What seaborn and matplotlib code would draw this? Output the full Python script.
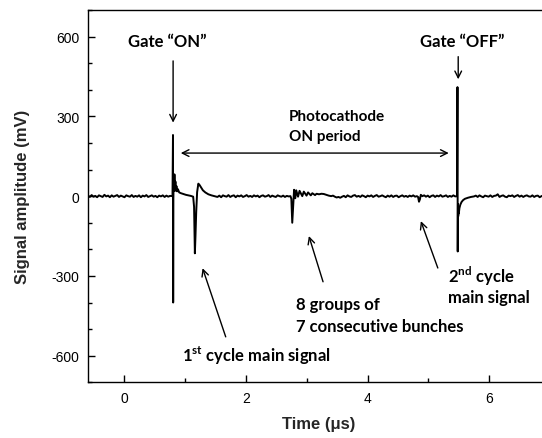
import matplotlib
matplotlib.use("Agg")
import matplotlib.pyplot as plt
import seaborn as sns
import pandas as pd
from matplotlib.ticker import MultipleLocator

# ---- data ----
t_pre = [-0.60, -0.57, -0.54, -0.51, -0.48, -0.45, -0.42, -0.39, -0.36, -0.33,
         -0.30, -0.27, -0.24, -0.21, -0.18, -0.15, -0.12, -0.09, -0.06, -0.03,
         0.00, 0.03, 0.06, 0.09, 0.12, 0.15, 0.18, 0.21, 0.24, 0.27,
         0.30, 0.33, 0.36, 0.39, 0.42, 0.45, 0.48, 0.51, 0.54, 0.57,
         0.60, 0.63, 0.66, 0.69, 0.72, 0.75, 0.79]
v_pre = [2, -3, 4, -2, 1, -4, 3, 0, -3, 5, -1, 2, -4, 3, -2, 1, 4, -3, 2, -1,
         -4, 3, 0, -2, 4, -3, 1, -2, 3, -4, 2, -1, 4, -3, 0, 3, -2, 1, -4, 2,
         -1, 3, -3, 2, -2, 1, 0]

t_on = [0.798, 0.801, 0.804, 0.808, 0.815, 0.822, 0.830, 0.838, 0.846, 0.855,
        0.865, 0.880, 0.900, 0.930, 0.970, 1.010, 1.050, 1.090, 1.130]
v_on = [230, -400, -10, 40, 20, 82, 25, 55, 20, 38, 18, 26, 14, 11, 8, 5, 3, 1, -2]

t_c1 = [1.145, 1.158, 1.168, 1.180, 1.195, 1.215, 1.235, 1.260, 1.290, 1.330,
        1.380, 1.430, 1.480]
v_c1 = [-40, -215, -150, -60, 15, 47, 42, 33, 22, 14, 7, 3, 0]

t_mid1 = [1.53, 1.56, 1.59, 1.62, 1.65, 1.68, 1.71, 1.74, 1.77, 1.80, 1.83, 1.86,
          1.89, 1.92, 1.95, 1.98, 2.01, 2.04, 2.07, 2.10, 2.13, 2.16, 2.19, 2.22,
          2.25, 2.28, 2.31, 2.34, 2.37, 2.40, 2.43, 2.46, 2.49, 2.52, 2.55, 2.58,
          2.61, 2.64, 2.67, 2.70, 2.73]
v_mid1 = [-3, 2, -4, 3, 0, -2, 4, -3, 1, 3, -4, 2, -1, 3, -3, 0, 4, -2, 1, -3,
          3, -1, 2, -4, 1, 3, -2, 0, 4, -3, 2, -1, -3, 3, 0, -2, 2, -3, 1, -1, 0]

t_grp = [2.745, 2.760, 2.775, 2.790, 2.810, 2.825, 2.855, 2.880, 2.925, 2.950,
         2.995, 3.020, 3.065, 3.090, 3.135, 3.160, 3.200, 3.240, 3.280, 3.320,
         3.360, 3.400]
v_grp = [-10, -100, -40, 24, -8, 22, -2, 20, 0, 17, 2, 14, 3, 11, 4, 9, 7, 9, 8,
         5, 2, 0]

t_mid2 = [3.43, 3.46, 3.49, 3.52, 3.55, 3.58, 3.61, 3.64, 3.67, 3.70, 3.73, 3.76,
          3.79, 3.82, 3.85, 3.88, 3.91, 3.94, 3.97, 4.00, 4.03, 4.06, 4.09, 4.12,
          4.15, 4.18, 4.21, 4.24, 4.27, 4.30, 4.33, 4.36, 4.39, 4.42, 4.45, 4.48,
          4.51, 4.54, 4.57, 4.60, 4.63, 4.66, 4.69, 4.72, 4.75, 4.78, 4.81]
v_mid2 = [2, -2, -5, -3, -6, -2, 1, -4, 3, -1, -3, 2, 4, -2, 1, -3, 3, 0, -4, 2,
          -1, 3, -3, 1, 4, -2, 0, 3, -1, -4, 2, -2, 3, -3, 1, 2, -4, 0, 3, -2,
          1, -3, 2, -1, 3, -2, 0]

t_c2 = [4.830, 4.845, 4.860, 4.875, 4.900]
v_c2 = [-3, -21, -12, 5, 0]

t_mid3 = [4.93, 4.96, 4.99, 5.02, 5.05, 5.08, 5.11, 5.14, 5.17, 5.20, 5.23, 5.26,
          5.29, 5.32, 5.35, 5.38, 5.41, 5.44, 5.47]
v_mid3 = [3, -2, 2, -4, 1, 3, -3, 2, -1, 4, -2, 0, 3, -3, 1, -2, 3, -1, 0]

t_off = [5.478, 5.482, 5.486, 5.490, 5.495, 5.500, 5.510, 5.525, 5.545, 5.570,
         5.600, 5.650, 5.700, 5.750]
v_off = [410, -208, -30, -76, -60, -65, -45, -32, -22, -15, -10, -6, -3, -1]

t_post = [5.78, 5.81, 5.84, 5.87, 5.90, 5.93, 5.96, 5.99, 6.02, 6.05, 6.08, 6.11,
          6.14, 6.17, 6.20, 6.23, 6.26, 6.29, 6.32, 6.35, 6.38, 6.41, 6.44, 6.47,
          6.50, 6.53, 6.56, 6.59, 6.62, 6.65, 6.68, 6.71, 6.74, 6.77, 6.80, 6.83,
          6.86, 6.89, 6.92, 6.95, 6.98, 7.00]
v_post = [2, -3, 3, -1, -4, 2, 0, -2, 3, -3, 1, 2, 7, -3, 1, 3, -2, -4, 2, 0,
          3, -3, 1, 4, -2, 2, -3, 1, 3, -1, -2, 3, -3, 1, 2, -4, 0, 3, -2, 1, -1, 0]

x_ticks = [0, 2, 4, 6]
y_ticks = [-600, -300, 0, 300, 600]

t_all = t_pre + t_on + t_c1 + t_mid1 + t_grp + t_mid2 + t_c2 + t_mid3 + t_off + t_post
v_all = v_pre + v_on + v_c1 + v_mid1 + v_grp + v_mid2 + v_c2 + v_mid3 + v_off + v_post
df = pd.DataFrame({"t": t_all, "v": v_all})

# ---- style ----
sns.set_theme(style="ticks")
plt.rcParams["font.family"] = ["Liberation Sans", "DejaVu Sans"]
plt.rcParams["axes.unicode_minus"] = False
plt.rcParams["mathtext.fontset"] = "custom"
plt.rcParams["mathtext.rm"] = "Lato"
plt.rcParams["mathtext.bf"] = "Lato:bold"

W, H = 542, 439
fig = plt.figure(figsize=(W / 100, H / 100), dpi=100)
left, right, bottom, top = 88, 550, 383.3, 11
ax = fig.add_axes([left / W, 1 - bottom / H, (right - left) / W, (bottom - top) / H])

sns.lineplot(data=df, x="t", y="v", ax=ax, color="black", linewidth=1.4,
             estimator=None, sort=False)

ax.set_xlim(-0.6, 7.0)
ax.set_ylim(-700, 700)
ax.set_xticks(x_ticks)
ax.set_yticks(y_ticks)
ax.xaxis.set_minor_locator(MultipleLocator(1))
ax.yaxis.set_minor_locator(MultipleLocator(100))
ax.tick_params(which="both", direction="in", color="black", width=1)
ax.tick_params(which="major", length=5, labelsize=10, colors="black", pad=6)
ax.tick_params(which="minor", length=3)
for s in ax.spines.values():
    s.set_color("black")
    s.set_linewidth(1.0)

ax.set_xlabel("Time (μs)", fontsize=12, fontweight="bold", labelpad=8)
ax.set_ylabel("Signal amplitude (mV)", fontsize=12, fontweight="bold", labelpad=16)

afont = dict(family="Lato", fontweight="bold", color="black")
arr = dict(arrowstyle="->", color="black", lw=1.0, mutation_scale=12)

ax.text(0.71, 585, "Gate “ON”", ha="center", va="center", fontsize=12, **afont)
ax.annotate("", xy=(0.80, 266), xytext=(0.80, 519), arrowprops=arr)
ax.text(5.55, 585, "Gate “OFF”", ha="center", va="center", fontsize=12, **afont)
ax.annotate("", xy=(5.49, 429), xytext=(5.49, 535), arrowprops=arr)

ax.annotate("", xy=(0.88, 162), xytext=(5.38, 162),
            arrowprops=dict(arrowstyle="<->", color="black", lw=1.0, mutation_scale=12))
ax.text(2.70, 300, "Photocathode", ha="left", va="center", fontsize=11, **afont)
ax.text(2.70, 226, "ON period", ha="left", va="center", fontsize=11, **afont)

ax.annotate("", xy=(1.27, -261), xytext=(1.68, -539), arrowprops=arr)
ax.text(0.94, -595, r"1$^{\mathbf{st}}$ cycle main signal", ha="left", va="center",
        fontsize=12, **afont)

ax.annotate("", xy=(3.02, -140), xytext=(3.28, -332), arrowprops=arr)
ax.text(2.82, -404, "8 groups of", ha="left", va="center", fontsize=12, **afont)
ax.text(2.82, -488, "7 consecutive bunches", ha="left", va="center", fontsize=12, **afont)

ax.annotate("", xy=(4.86, -84), xytext=(5.17, -280), arrowprops=arr)
ax.text(5.33, -298, r"2$^{\mathbf{nd}}$ cycle", ha="left", va="center", fontsize=12, **afont)
ax.text(5.33, -379, "main signal", ha="left", va="center", fontsize=12, **afont)

fig.savefig("out.png", dpi=100)
